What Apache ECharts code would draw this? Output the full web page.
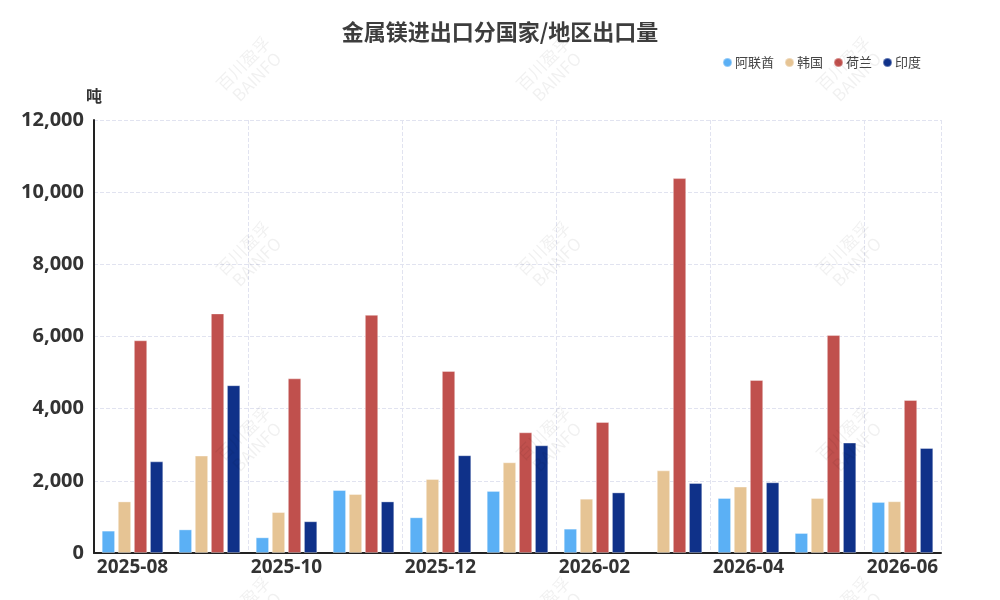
<!DOCTYPE html>
<html>
<head>
<meta charset="utf-8">
<script src="https://cdn.jsdelivr.net/npm/echarts@6/dist/echarts.min.js"></script>
<style>
  html, body { margin: 0; padding: 0; background: #fff; }
  #main { width: 1000px; height: 600px; }
</style>
</head>
<body>
<div id="main"></div>
<script>
const months = ['2025-08', '2025-09', '2025-10', '2025-11', '2025-12', '2026-01',
  '2026-02', '2026-03', '2026-04', '2026-05', '2026-06'];
const uae = [620, 655, 435, 1745, 990, 1720, 675, null, 1525, 555, 1415];
const korea = [1430, 2700, 1135, 1635, 2050, 2515, 1505, 2290, 1840, 1525, 1435];
const netherlands = [5895, 6640, 4840, 6600, 5045, 3345, 3630, 10390, 4795, 6040, 4240];
const india = [2540, 4650, 880, 1430, 2710, 2985, 1680, 1940, 1960, 3060, 2910];

const chart = echarts.init(document.getElementById('main'));

// watermark tiles
const marks = [];
[[250, 70], [550, 70], [850, 70], [250, 255], [550, 255], [850, 255],
  [250, 440], [550, 440], [850, 440], [250, 610], [550, 610], [850, 610]].forEach(p => {
  marks.push({
    type: 'text',
    x: p[0],
    y: p[1],
    rotation: Math.PI / 4,
    silent: true,
    z: 100,
    style: {
      text: '百川盈孚\nBAINFO',
      fill: 'rgba(0,0,0,0.06)',
      font: '17px "Noto Sans CJK SC"',
      align: 'center',
      verticalAlign: 'middle',
      lineHeight: 19
    }
  });
});

function bar(name, data, color) {
  return {
    name: name,
    type: 'bar',
    data: data,
    barGap: '20%',
    barCategoryGap: '20%',
    itemStyle: {
      color: color,
      borderColor: 'rgba(255,255,255,0.35)',
      borderWidth: 1
    }
  };
}

chart.setOption({
  title: {
    text: '金属镁进出口分国家/地区出口量',
    left: 'center',
    top: 16,
    textStyle: {
      fontSize: 22,
      fontWeight: 'bold',
      color: '#3d3d3d',
      fontFamily: 'Noto Sans CJK SC'
    }
  },
  legend: {
    right: 74,
    top: 51,
    icon: 'circle',
    itemWidth: 9,
    itemHeight: 9,
    itemGap: 10,
    textStyle: {
      fontSize: 13,
      color: '#444',
      fontFamily: 'Noto Sans CJK SC',
      padding: [0, 0, 0, -2]
    }
  },
  grid: {
    left: 94,
    right: 59,
    top: 120,
    bottom: 47
  },
  xAxis: {
    type: 'category',
    data: months,
    axisLine: { lineStyle: { color: '#222', width: 2 } },
    axisTick: { show: false },
    axisLabel: {
      interval: 1,
      fontSize: 19,
      fontWeight: 'bold',
      fontFamily: 'Noto Sans',
      color: '#333',
      margin: 5
    },
    splitLine: {
      show: true,
      lineStyle: { type: 'dashed', color: '#e1e3f0' }
    }
  },
  yAxis: {
    type: 'value',
    min: 0,
    max: 12000,
    interval: 2000,
    name: '吨',
    nameGap: 16,
    nameTextStyle: {
      fontSize: 16,
      fontWeight: 'bold',
      color: '#333',
      fontFamily: 'Noto Sans CJK SC',
      align: 'center'
    },
    axisLine: { show: true, lineStyle: { color: '#222', width: 2 } },
    axisTick: { show: false },
    axisLabel: {
      fontSize: 20,
      fontWeight: 'bold',
      fontFamily: 'Noto Sans',
      color: '#333',
      margin: 10,
      formatter: v => v.toLocaleString('en-US')
    },
    splitLine: {
      lineStyle: { type: 'dashed', color: '#e1e3f0' }
    }
  },
  graphic: marks,
  series: [
    bar('阿联酋', uae, '#5bb0f5'),
    bar('韩国', korea, '#e6c494'),
    bar('荷兰', netherlands, '#c0504d'),
    bar('印度', india, '#0f3189')
  ]
});
</script>
</body>
</html>
